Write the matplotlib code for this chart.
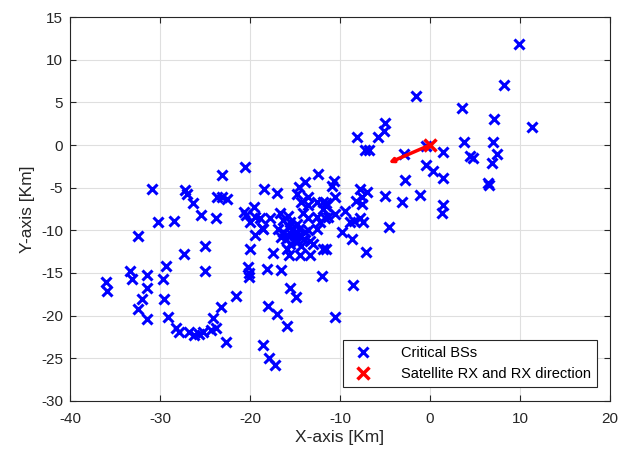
import numpy as np
import matplotlib
matplotlib.use('Agg')
import matplotlib.pyplot as plt

plt.rcParams['font.family'] = ['Liberation Sans', 'DejaVu Sans']
plt.rcParams['axes.unicode_minus'] = False

# critical base station positions [km]
bs_x = [
    # west group
    -30.9, -27.2, -27.0, -26.3, -23.1, -23.7, -23.1, -22.6, -25.4, -23.8,
    -30.2, -28.4, -32.4, -25.0, -27.3, -20.6,
    # south-west group
    -29.3, -33.3, -33.1, -31.4, -29.7, -25.0, -36.0, -35.9, -31.4, -32.0,
    -32.4, -29.6, -31.4, -29.1, -23.2, -24.1, -22.7, -21.5,
    # southern arc
    -28.2, -27.9, -26.8, -26.2, -25.7, -25.2, -24.3, -23.8,
    # central south
    -20.2, -20.1, -20.1, -18.1, -16.5, -12.0, -15.5, -14.9, -18.0, -17.0,
    -15.9, -10.6, -18.6, -17.9, -17.2, -20.0, -19.4, -18.7,
    # dense centre
    -18.4, -17.0, -20.7, -20.4, -19.6, -19.4, -20.0, -18.9, -18.5, -17.8,
    -16.7, -16.3, -16.9, -15.7, -15.9, -14.8, -14.1, -13.5, -12.6, -12.6,
    -12.2, -11.9, -11.3, -14.8, -13.3, -13.0, -11.9, -13.9, -15.9, -14.4,
    -15.7, -17.4, -13.3, -15.4, -15.2, -16.3, -14.4, -15.0, -15.6, -14.3,
    -15.5, -14.5, -16.0, -14.0, -15.0, -16.5, -13.5, -15.8, -13.5,
    # north-east of the centre
    -12.4, -13.9, -14.6, -14.8, -13.5, -14.3, -10.7, -10.9, -7.8, -7.0,
    -7.5, -8.2, -7.6, -10.6, -11.6, -9.4, -10.6, -11.7, -7.8, -8.4,
    -7.4, -8.9, -9.8, -8.7, -11.6, -7.1, -8.5, -11.5, -12.6, -11.9,
    # around the receiver
    -5.0, -5.8, -5.1, -8.1, -7.2, -6.8, -2.9, -1.6, -2.8, -5.0,
    -3.1, -1.1, -4.6, 1.4, 1.3, -0.4, 0.3, 1.4, 1.4, -0.5,
    # east
    9.9, 8.2, 3.6, 7.1, 11.3, 3.8, 7.0, 4.4, 4.8, 7.4,
    6.9, 6.4, 6.6,
]
bs_y = [
    -5.2, -5.3, -5.7, -6.8, -3.5, -6.1, -6.1, -6.3, -8.2, -8.5,
    -9.0, -8.9, -10.7, -11.8, -12.8, -2.6,
    -14.2, -14.8, -15.7, -15.2, -15.7, -14.8, -16.1, -17.1, -16.7, -18.1,
    -19.2, -18.1, -20.4, -20.1, -19.0, -20.3, -23.1, -17.7,
    -21.5, -21.9, -21.9, -22.3, -22.1, -21.9, -21.7, -21.5,
    -14.3, -15.0, -15.5, -14.5, -14.7, -15.3, -16.8, -17.8, -18.9, -19.8,
    -21.2, -20.2, -23.4, -25.0, -25.8, -12.2, -10.6, -9.7,
    -5.1, -5.6, -7.9, -8.2, -7.3, -8.4, -9.0, -8.6, -9.8, -8.6,
    -8.0, -8.8, -9.8, -9.6, -10.6, -9.2, -8.0, -8.6, -8.4, -9.8,
    -9.0, -7.5, -8.4, -11.4, -11.2, -11.6, -12.2, -10.2, -12.2, -12.9,
    -12.9, -12.7, -12.9, -10.4, -9.8, -10.2, -10.6, -11.2, -11.6, -11.8,
    -9.0, -9.8, -11.0, -11.0, -10.5, -10.8, -10.0, -8.3, -7.0,
    -3.4, -4.3, -4.9, -5.7, -6.1, -6.7, -4.2, -4.8, -5.2, -5.5,
    -6.1, -6.6, -6.9, -6.1, -6.8, -7.7, -8.1, -8.6, -8.6, -8.9,
    -9.0, -9.0, -10.2, -11.0, -12.2, -12.5, -16.4, -7.1, -6.7, -6.7,
    2.6, 0.9, 1.6, 0.9, -0.6, -0.6, -1.0, 5.7, -4.1, -6.0,
    -6.7, -5.9, -9.6, -7.0, -8.0, -2.4, -3.1, -3.9, -0.8, -0.1,
    11.8, 7.0, 4.3, 3.1, 2.1, 0.35, 0.35, -1.3, -1.5, -1.1,
    -2.1, -4.4, -4.7,
]

# satellite receiver and its pointing direction [km]
rx_x, rx_y = 0.0, 0.0
dir_x, dir_y = -4.6, -2.1

fig = plt.figure(figsize=(6.21, 4.5), dpi=100)
ax = fig.add_axes([0.1127, 0.1089, 0.8696, 0.8533])

ax.plot(bs_x, bs_y, 'x', color='#0000ff', markersize=7.5, mew=2.2,
        linestyle='none', label='Critical BSs')
ax.annotate('', xy=(dir_x, dir_y), xytext=(rx_x, rx_y),
            arrowprops=dict(arrowstyle='-|>', color='#ff0000', lw=2.5,
                            mutation_scale=6, shrinkA=0, shrinkB=0))
ax.plot([rx_x], [rx_y], 'x', color='#ff0000', markersize=8.5, mew=2.5,
        linestyle='none', label='Satellite RX and RX direction')

ax.set_xlim(-40, 20)
ax.set_ylim(-30, 15)
ax.set_xticks(np.arange(-40, 21, 10))
ax.set_yticks(np.arange(-30, 16, 5))
ax.grid(True, color='#dfdfdf', linewidth=0.8)
ax.set_axisbelow(True)
for s in ax.spines.values():
    s.set_color('#262626')
    s.set_linewidth(0.8)
ax.tick_params(direction='in', top=True, right=True, length=4,
               labelsize=11, colors='#262626', width=0.8)
ax.tick_params(axis='x', pad=8)
ax.tick_params(axis='y', pad=5)
ax.set_xlabel('X-axis [Km]', fontsize=12.5, color='#262626', labelpad=3)
ax.set_ylabel('Y-axis [Km]', fontsize=12.5, color='#262626', labelpad=4)

leg = ax.legend(loc='lower right', fontsize=10.5, fancybox=False,
                edgecolor='#262626', framealpha=1, borderpad=0.4,
                handletextpad=1.6, borderaxespad=0,
                bbox_to_anchor=(0.976, 0.036))
leg.get_frame().set_linewidth(0.8)

fig.savefig('out.png', dpi=100)
